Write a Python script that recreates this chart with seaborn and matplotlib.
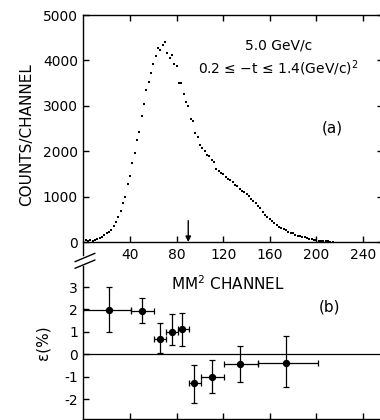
import numpy as np
import pandas as pd
import matplotlib
matplotlib.use("Agg")
import matplotlib.pyplot as plt
from matplotlib.lines import Line2D
import seaborn as sns

# (a) missing-mass squared spectrum, counts per channel
channel = list(range(2, 216, 2))
counts = [40, 30, 50, 20, 40, 60, 80, 120, 150, 190,
          220, 265, 350, 450, 560, 680, 860, 1000, 1270, 1450,
          1740, 1960, 2250, 2420, 2770, 3050, 3340, 3520, 3720, 3910,
          4100, 4280, 4240, 4350, 4400, 4160, 4060, 4110, 3910, 3870,
          3510, 3500, 3250, 3080, 2990, 2700, 2660, 2400, 2310, 2130,
          2070, 2010, 1910, 1890, 1800, 1760, 1600, 1560, 1520, 1500,
          1440, 1380, 1360, 1330, 1260, 1230, 1160, 1120, 1100, 1050,
          1010, 950, 900, 860, 800, 750, 670, 600, 560, 500,
          470, 420, 380, 340, 300, 280, 260, 230, 200, 190,
          160, 140, 130, 115, 105, 95, 75, 60, 50, 35,
          30, 25, 20, 22, 15, 10, 5]

# (b) asymmetry epsilon (%) per MM^2 bin
bin_center = [22, 50, 66, 76, 85, 95, 110, 134, 174]
bin_lo = [0, 41, 61, 71, 81, 91, 101, 121, 150]
bin_hi = [41, 61, 71, 81, 91, 101, 121, 150, 201]
eps = [1.98, 1.95, 0.67, 1.01, 1.12, -1.29, -1.0, -0.43, -0.38]
eps_up = [3.0, 2.5, 1.38, 1.79, 1.83, -0.48, -0.25, 0.37, 0.82]
eps_dn = [1.0, 1.41, 0.07, 0.42, 0.37, -2.19, -1.74, -1.22, -1.47]

sns.set_style("ticks")
plt.rcParams["font.family"] = ["DejaVu Sans"]
plt.rcParams.update({"axes.linewidth": 1.0, "axes.edgecolor": "black",
                     "text.color": "black", "axes.labelcolor": "black",
                     "xtick.color": "black", "ytick.color": "black"})

W, H = 380, 420
fig = plt.figure(figsize=(W / 100, H / 100), dpi=100)

x0 = 83.4 / W
xw = (383 - 83.4) / W
xmax = (383 - 83.4) / 1.165

# ---- top panel ----
ax1 = fig.add_axes([x0, (H - 255) / H, xw, (255 - 15) / H])
df = pd.DataFrame({"channel": channel, "counts": counts})
sns.scatterplot(data=df, x="channel", y="counts", ax=ax1, marker="s",
                s=2, color="black", linewidth=0)
ax1.set_xlim(0, xmax)
ax1.set_ylim(-286, 5000)
ax1.spines["bottom"].set_position(("data", 0))
ax1.set_xticks([40, 80, 120, 160, 200, 240])
ax1.set_yticks([0, 1000, 2000, 3000, 4000, 5000])
ax1.set_yticklabels(["0", "1000", "2000", "3000", "4000", "5000"])
ax1.tick_params(direction="in", length=4, width=1, labelsize=10,
                top=True, right=True, pad=4)
ax1.set_xlabel("")
ax1.set_ylabel("COUNTS/CHANNEL", fontsize=11, labelpad=6)
ax1.annotate("", xy=(90, 0), xytext=(90, 470),
             arrowprops=dict(arrowstyle="-|>", lw=1, color="black",
                             mutation_scale=8, shrinkA=0, shrinkB=0))
ax1.text(0.65, 0.875, "5.0 GeV/c", transform=ax1.transAxes,
         ha="center", va="center", fontsize=10)
ax1.text(0.65, 0.78, "0.2 ≤ −t ≤ 1.4(GeV/c)$^2$", transform=ax1.transAxes,
         ha="center", va="center", fontsize=10)
ax1.text(0.83, 0.53, "(a)", transform=ax1.transAxes,
         ha="center", va="center", fontsize=11)

# ---- bottom panel ----
ax2 = fig.add_axes([x0, 1 / H, xw, (419 - 266) / H])
ax2.axhline(0, color="black", lw=0.9)
ax2.errorbar(bin_center, eps,
             xerr=[np.subtract(bin_center, bin_lo), np.subtract(bin_hi, bin_center)],
             yerr=[np.subtract(eps, eps_dn), np.subtract(eps_up, eps)],
             fmt="none", ecolor="black", elinewidth=0.9, capsize=2, capthick=0.9)
sns.scatterplot(x=bin_center, y=eps, ax=ax2, color="black", s=28,
                linewidth=0, zorder=3)
ax2.set_xlim(0, xmax)
ax2.set_ylim(-2.89, 3.94)
ax2.set_xticks([40, 80, 120, 160, 200, 240])
ax2.set_xticklabels([])
ax2.set_yticks([-2, -1, 0, 1, 2, 3])
ax2.set_yticklabels(["-2", "-1", "0", "1", "2", "3"])
ax2.tick_params(direction="in", length=4, width=1, labelsize=10, pad=4)
ax2.spines["top"].set_visible(False)
ax2.set_ylabel("ε(%)", fontsize=11, labelpad=10)
ax2.text(0.82, 0.73, "(b)", transform=ax2.transAxes,
         ha="center", va="center", fontsize=11)

fig.text(228 / W, 1 - 284 / H, "MM$^2$ CHANNEL", ha="center", va="center",
         fontsize=11)

# axis break marks
for y_a, y_b in [(261.7, 253.3), (268.3, 260.0)]:
    fig.add_artist(Line2D([75 / W, 95 / W], [1 - y_a / H, 1 - y_b / H],
                          color="black", lw=1, transform=fig.transFigure))

fig.savefig("out.png", dpi=100)
